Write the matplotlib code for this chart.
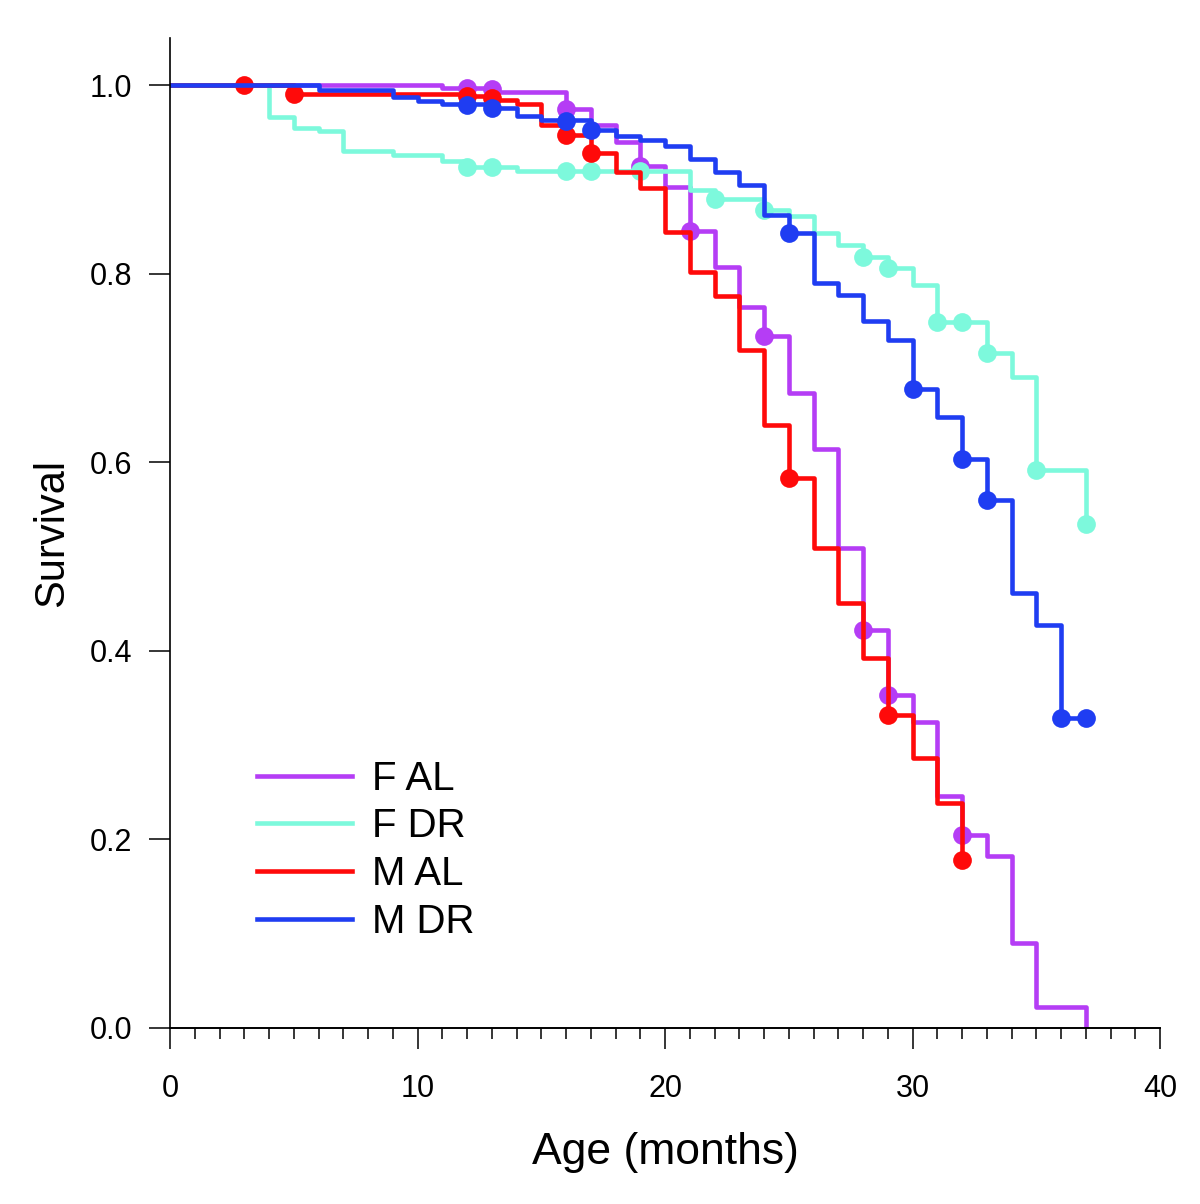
import matplotlib
matplotlib.use("Agg")
import matplotlib.pyplot as plt
from matplotlib.ticker import MultipleLocator

plt.rcParams['font.family'] = ['Liberation Sans', 'DejaVu Sans']

# Kaplan-Meier steps: event times (months) and survival after each step
f_al_t = [0, 11, 13, 16, 17, 18, 19, 20, 21, 22, 23, 24, 25, 26, 27, 28, 29, 30, 31, 32, 33, 34, 35, 37]
f_al_s = [1.0, 0.997, 0.993, 0.975, 0.958, 0.940, 0.914, 0.892, 0.845, 0.807, 0.765, 0.734, 0.673, 0.614,
          0.509, 0.422, 0.353, 0.325, 0.246, 0.205, 0.182, 0.090, 0.022, 0.0]
f_al_ct = [12, 13, 16, 19, 21, 24, 28, 29, 32]
f_al_cs = [0.997, 0.996, 0.975, 0.914, 0.845, 0.734, 0.422, 0.353, 0.205]

f_dr_t = [0, 4, 5, 6, 7, 9, 11, 12, 14, 21, 22, 24, 25, 26, 27, 28, 29, 30, 31, 33, 34, 35, 37]
f_dr_s = [1.0, 0.966, 0.955, 0.951, 0.930, 0.926, 0.920, 0.913, 0.909, 0.889, 0.879, 0.868, 0.861, 0.843,
          0.830, 0.818, 0.806, 0.788, 0.749, 0.716, 0.690, 0.592, 0.535]
f_dr_ct = [12, 13, 16, 17, 19, 22, 24, 28, 29, 31, 32, 33, 35, 37]
f_dr_cs = [0.913, 0.913, 0.909, 0.909, 0.909, 0.879, 0.868, 0.818, 0.806, 0.749, 0.749, 0.716, 0.592, 0.535]

m_al_t = [0, 5, 12, 13, 14, 15, 16, 17, 18, 19, 20, 21, 22, 23, 24, 25, 26, 27, 28, 29, 30, 31, 32]
m_al_s = [1.0, 0.991, 0.989, 0.984, 0.980, 0.958, 0.947, 0.928, 0.908, 0.891, 0.844, 0.802, 0.776, 0.719,
          0.640, 0.583, 0.509, 0.451, 0.392, 0.332, 0.286, 0.239, 0.178]
m_al_ct = [3, 5, 12, 13, 16, 17, 25, 29, 32]
m_al_cs = [1.0, 0.991, 0.989, 0.986, 0.947, 0.928, 0.583, 0.332, 0.178]

m_dr_t = [0, 6, 9, 10, 11, 13, 14, 15, 17, 18, 19, 20, 21, 22, 23, 24, 25, 26, 27, 28, 29, 30, 31, 32,
          33, 34, 35, 36, 37]
m_dr_s = [1.0, 0.995, 0.987, 0.983, 0.980, 0.976, 0.967, 0.963, 0.952, 0.946, 0.942, 0.936, 0.922, 0.908,
          0.894, 0.862, 0.843, 0.790, 0.777, 0.750, 0.730, 0.678, 0.648, 0.604, 0.560, 0.461, 0.427, 0.329, 0.329]
m_dr_ct = [12, 13, 16, 17, 25, 30, 32, 33, 36, 37]
m_dr_cs = [0.979, 0.976, 0.962, 0.952, 0.843, 0.678, 0.604, 0.560, 0.329, 0.329]

groups = [
    ("F AL", f_al_t, f_al_s, f_al_ct, f_al_cs, '#B53DF5'),
    ("F DR", f_dr_t, f_dr_s, f_dr_ct, f_dr_cs, '#7DF9DC'),
    ("M AL", m_al_t, m_al_s, m_al_ct, m_al_cs, '#FF0A0A'),
    ("M DR", m_dr_t, m_dr_s, m_dr_ct, m_dr_cs, '#1F3DF2'),
]

fig = plt.figure(figsize=(12, 12.04), dpi=100)
ax = fig.add_axes([0.1417, 0.1462, 0.825, 0.8222])

for name, t, s, ct, cs, col in groups:
    ax.step(t, s, where='post', color=col, lw=3.3, label=name)
    ax.plot(ct, cs, 'o', color=col, ms=13.5, mec='none')

ax.set_xlim(0, 40)
ax.set_ylim(0, 1.05)
ax.xaxis.set_major_locator(MultipleLocator(10))
ax.xaxis.set_minor_locator(MultipleLocator(1))
ax.set_yticks([0, 0.2, 0.4, 0.6, 0.8, 1.0])
ax.set_yticklabels(['0.0', '0.2', '0.4', '0.6', '0.8', '1.0'])
ax.spines['top'].set_visible(False)
ax.spines['right'].set_visible(False)
ax.spines['left'].set_linewidth(1.2)
ax.spines['bottom'].set_linewidth(1.4)
ax.tick_params(axis='both', which='major', length=15, width=1.1, labelsize=22)
ax.tick_params(axis='y', which='major', pad=12)
ax.tick_params(axis='x', which='major', pad=18)
ax.tick_params(axis='x', which='minor', length=8, width=1.1)

ax.set_xlabel('Age (months)', fontsize=32, labelpad=20)
ax.set_ylabel('Survival', fontsize=30, labelpad=13)

ax.legend(loc='upper left', bbox_to_anchor=(0.088, 0.271), frameon=False, fontsize=29,
          handlelength=2.35, handletextpad=0.5, labelspacing=0.24, borderpad=0, borderaxespad=0)

fig.savefig('out.png', dpi=100)
